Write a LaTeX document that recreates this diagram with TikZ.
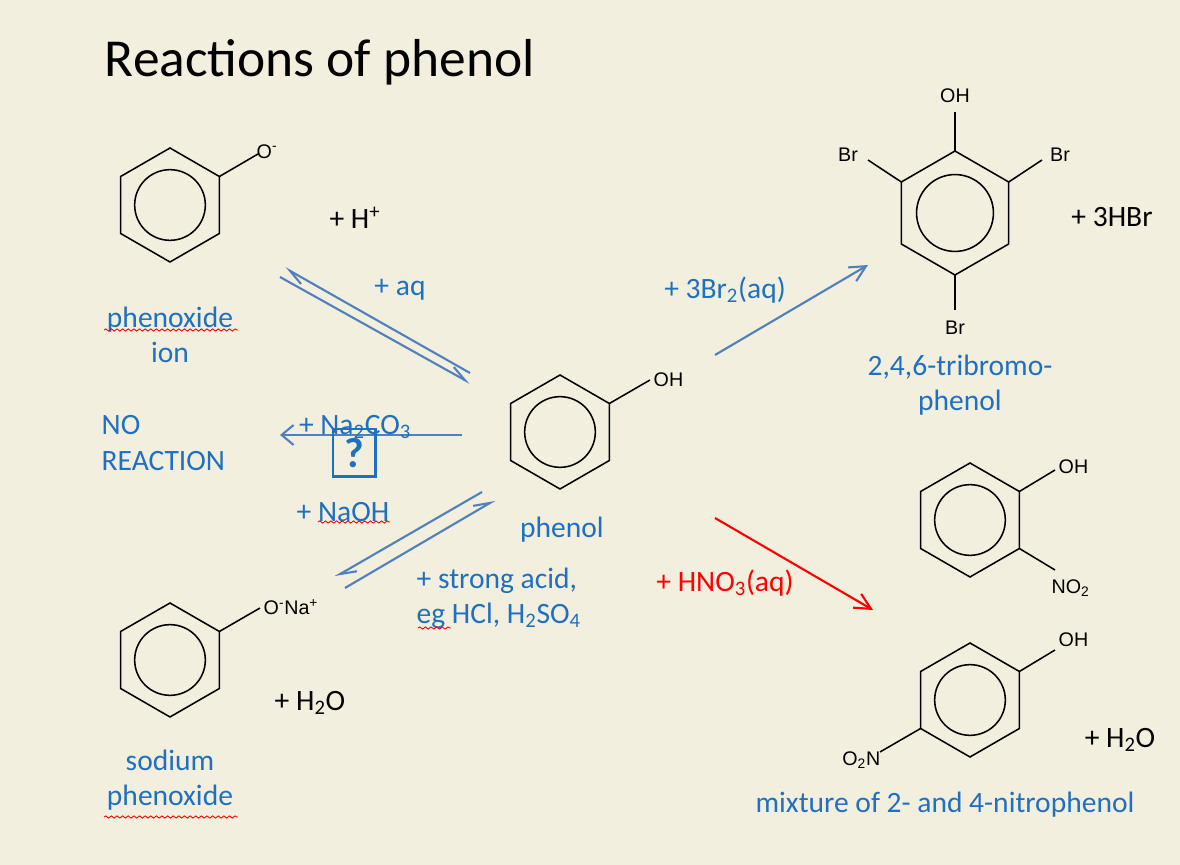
\documentclass[tikz,border=0pt]{standalone}
\usepackage{fontspec}
\setmainfont{Carlito}
\newfontfamily\chemfont{Liberation Sans}
\usetikzlibrary{arrows.meta,positioning,decorations.pathmorphing}
\definecolor{paper}{HTML}{F3EFDE}
\definecolor{labelblue}{HTML}{1F70C1}
\definecolor{arrowblue}{HTML}{4F81BD}
\tikzset{
  lbl/.style={text=labelblue,font=\fontsize{21}{25}\selectfont,align=center,inner sep=1pt},
  blk/.style={lbl,text=black},
  chem/.style={font=\chemfont\fontsize{14}{16}\selectfont,inner sep=1pt},
  rxn/.style={draw=arrowblue,line width=1.5pt,-{Straight Barb[length=4mm,width=4mm]}},
  half/.style={draw=arrowblue,line width=1.5pt,-{Straight Barb[left,length=4mm,width=3mm]}},
  spell/.style={draw=red,line width=0.6pt,decorate,decoration={snake,amplitude=0.8pt,segment length=4pt}}
}
% benzene ring: centre, radius
\newcommand{\benzring}[2]{%
  \draw[line width=1.1pt] (#1) ++(90:#2) -- ++(-30:#2) -- ++(-90:#2) -- ++(-150:#2)
      -- ++(150:#2) -- ++(90:#2) -- cycle;
  \draw[line width=1.1pt] (#1) circle[radius=0.62*#2];}
\newcommand{\sub}[1]{\textsubscript{#1}}
\begin{document}
\begin{tikzpicture}[x=0.025cm,y=-0.025cm]
  \fill[paper] (0,0) rectangle (1180,865);
  \useasboundingbox (0,0) rectangle (1180,865);

  \node[anchor=west,font=\fontsize{38}{40}\selectfont] (title) at (100,62) {Reactions of phenol};

  % phenoxide ion
  \benzring{170,205}{57}
  \draw[line width=1.1pt] (219.4,176.5) -- (258,154);
  \node[chem,anchor=south west] (ophen) at (255,160) {O\textsuperscript{-}};
  \node[blk] (hplus) at (355,218) {+ H\textsuperscript{+}};
  \node[lbl] (phenoxide) at (170,335) {phenoxide\\ion};

  % phenol
  \benzring{560,432}{57}
  \draw[line width=1.1pt] (609.4,403.5) -- (650,380);
  \node[chem,anchor=west] (oh) at (652,380) {OH};
  \node[lbl] (phenol) at (562,530) {phenol};

  % sodium phenoxide
  \benzring{170,660}{57}
  \draw[line width=1.1pt] (219.4,631.5) -- (260,608);
  \node[chem,anchor=west] (ona) at (262,607) {O\textsuperscript{-}Na\textsuperscript{+}};
  \node[blk] (water1) at (310,703) {+ H\sub{2}O};
  \node[lbl] (sodium) at (170,780) {sodium\\phenoxide};

  % tribromophenol
  \benzring{955,213}{62}
  \draw[line width=1.1pt] (955,151) -- (955,112);
  \draw[line width=1.1pt] (955,275) -- (955,310);
  \draw[line width=1.1pt] (901.3,182) -- (868,160);
  \draw[line width=1.1pt] (1008.7,182) -- (1042,160);
  \node[chem] (ohtop) at (955,96) {OH};
  \node[chem] (brleft) at (848,155) {Br};
  \node[chem] (brright) at (1060,155) {Br};
  \node[chem] (brbottom) at (955,328) {Br};
  \node[blk] (hbr) at (1112,217) {+ 3HBr};
  \node[lbl] (tribromo) at (960,385) {2,4,6-tribromo-\\phenol};

  % 2-nitrophenol
  \benzring{970,520}{57}
  \draw[line width=1.1pt] (1019.4,491.5) -- (1055,470);
  \draw[line width=1.1pt] (1019.4,548.5) -- (1055,570);
  \node[chem,anchor=west] (oh2) at (1057,467) {OH};
  \node[chem,anchor=north west] (no2) at (1050,578) {NO\sub{2}};

  % 4-nitrophenol
  \benzring{970,700}{57}
  \draw[line width=1.1pt] (1019.4,671.5) -- (1055,650);
  \draw[line width=1.1pt] (920.6,728.5) -- (880,752);
  \node[chem,anchor=west] (oh4) at (1057,640) {OH};
  \node[chem,anchor=north east] (o2n) at (882,750) {O\sub{2}N};
  \node[blk] (water2) at (1120,740) {+ H\sub{2}O};
  \node[lbl] (mixture) at (945,805) {mixture of 2- and 4-nitrophenol};

  % phenoxide equilibrium
  \coordinate (eqa1) at (470,373);
  \coordinate (eqa2) at (285,268);
  \coordinate (eqb1) at (280,277);
  \coordinate (eqb2) at (470,383);
  \draw[half] (eqa1) -- (eqa2);
  \draw[half] (eqb1) -- (eqb2);
  \node[lbl] (aq) at (400,290) {+ aq};

  % carbonate
  \coordinate (cstart) at (462,435);
  \coordinate (cend) at (280,435);
  \draw[rxn,-{Straight Barb[length=3mm,width=5mm]}] (cstart) -- (cend);
  \node[lbl] (carb) at (355,427) {+ Na\sub{2}CO\sub{3}};
  \node[draw=labelblue,line width=2pt,minimum width=30pt,minimum height=34pt,inner sep=0pt,
        text=labelblue,font=\bfseries\fontsize{30}{30}\selectfont] (query) at (354,453) {?};
  \node[lbl,align=left,anchor=west] (noreac) at (100,443) {NO\\REACTION};

  % hydroxide equilibrium
  \coordinate (hya1) at (482,492);
  \coordinate (hya2) at (335,577);
  \coordinate (hyb1) at (345,588);
  \coordinate (hyb2) at (495,500);
  \draw[half] (hya1) -- (hya2);
  \draw[half] (hyb1) -- (hyb2);
  \node[lbl] (naoh) at (343,512) {+ NaOH};
  \node[lbl,align=left,anchor=west] (acid) at (415,598) {+ strong acid,\\eg HCl, H\sub{2}SO\sub{4}};

  % bromine and nitric acid
  \coordinate (brs) at (715,355);
  \coordinate (bre) at (868,265);
  \draw[rxn] (brs) -- (bre);
  \node[lbl] (br2) at (725,290) {+ 3Br\sub{2}(aq)};
  \coordinate (nis) at (715,518);
  \coordinate (nie) at (873,610);
  \draw[rxn,draw=red] (nis) -- (nie);
  \node[lbl,text=red] (hno3) at (725,583) {+ HNO\sub{3}(aq)};

  % spelling marks
  \draw[spell] (104,330) -- (238,330);
  \draw[spell] (318,522) -- (390,522);
  \draw[spell] (418,628) -- (451,628);
  \draw[spell] (104,817) -- (238,817);
\end{tikzpicture}
\end{document}
